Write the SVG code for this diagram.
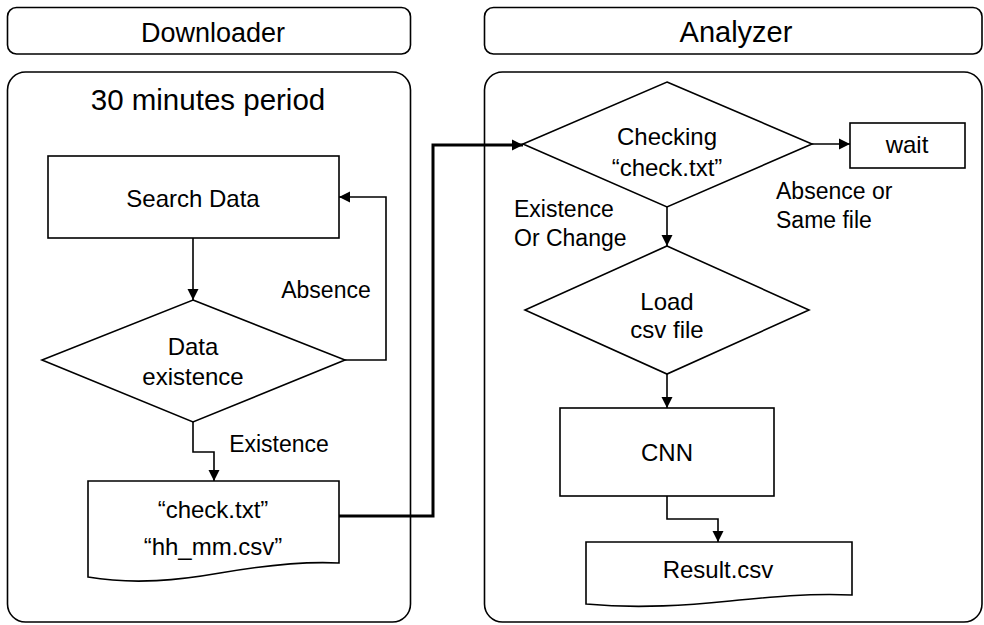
<svg xmlns="http://www.w3.org/2000/svg" width="984" height="625" viewBox="0 0 984 625">
<defs>
<style>
.box{fill:#fff;stroke:#000;stroke-width:1.6}
.shape{fill:#fff;stroke:#000;stroke-width:1.6}
.con{fill:none;stroke:#000;stroke-width:1.6}
.thick{fill:none;stroke:#000;stroke-width:3}
text{font-family:"Liberation Sans",Arial,sans-serif;fill:#000}
.h{font-size:27px;text-anchor:middle}
.t{font-size:24px;text-anchor:middle}
.l{font-size:23px}
</style>
<marker id="arr" markerUnits="userSpaceOnUse" markerWidth="12" markerHeight="12" viewBox="0 0 12 12" refX="11" refY="6" orient="auto">
<path d="M0,0.5 L11,6 L0,11.5 Z" fill="#000"/>
</marker>
</defs>
<rect width="984" height="625" fill="#fff"/>
<g id="downloader-header"><rect class="box" x="7.5" y="7.5" width="403" height="46.5" rx="9"/><text class="h" x="213" y="42">Downloader</text></g>
<g id="analyzer-header"><rect class="box" x="484.5" y="7.5" width="497.5" height="46.5" rx="9"/><text class="h" x="736" y="42" style="font-size:29px">Analyzer</text></g>
<g id="downloader-panel"><rect class="box" x="7.5" y="72" width="403" height="550" rx="18"/><text class="h" x="208" y="110" style="font-size:29.5px">30 minutes period</text></g>
<g id="analyzer-panel"><rect class="box" x="484.5" y="72" width="497.5" height="550" rx="18"/></g>

<g id="connectors">
<path class="con" d="M193,238 V300" marker-end="url(#arr)"/>
<path class="con" d="M345,360 H386 V197 H339" marker-end="url(#arr)"/>
<path class="con" d="M193,422 V452 H214 V481" marker-end="url(#arr)"/>
<path class="thick" d="M339,516 H433 V145 H523" marker-end="url(#arr)"/>
<path class="con" d="M812,144 H850" marker-end="url(#arr)"/>
<path class="con" d="M667,207 V246" marker-end="url(#arr)"/>
<path class="con" d="M667,374 V408" marker-end="url(#arr)"/>
<path class="con" d="M667,496 V519 H718 V542" marker-end="url(#arr)"/>
<text class="l" x="326" y="298" text-anchor="middle">Absence</text>
<text class="l" x="279" y="452" text-anchor="middle">Existence</text>
<text class="l" x="776" y="199">Absence or</text>
<text class="l" x="776" y="228">Same file</text>
<text class="l" x="514" y="217">Existence</text>
<text class="l" x="514" y="246">Or Change</text>
</g>

<g id="search-data"><rect class="shape" x="48" y="156" width="291" height="82"/><text class="t" x="193" y="207">Search Data</text></g>
<g id="data-existence"><polygon class="shape" points="193,300 345,360 193,422 42,360"/><text class="t" x="193" y="355">Data</text><text class="t" x="193" y="385">existence</text></g>
<g id="files-doc"><path class="shape" d="M88,481 H339 V563 C300,561 260,566 220,573 C180,580 135,585 88,577 Z"/><text class="t" x="213" y="518">“check.txt”</text><text class="t" x="213" y="555">“hh_mm.csv”</text></g>
<g id="checking"><polygon class="shape" points="667,82 812,144 667,207 523,144"/><text class="t" x="667" y="145">Checking</text><text class="t" x="667" y="176">“check.txt”</text></g>
<g id="wait"><rect class="shape" x="850" y="123" width="115" height="45"/><text class="t" x="907" y="153">wait</text></g>
<g id="load-csv"><polygon class="shape" points="667,246 809,310 667,374 525,310"/><text class="t" x="667" y="310">Load</text><text class="t" x="667" y="338">csv file</text></g>
<g id="cnn"><rect class="shape" x="560" y="408" width="214" height="88"/><text class="t" x="667" y="461">CNN</text></g>
<g id="result-doc"><path class="shape" d="M586,542 H852 V595 C810,593 770,597 730,601 C690,605 640,609 586,604 Z"/><text class="t" x="718" y="578">Result.csv</text></g>
</svg>
